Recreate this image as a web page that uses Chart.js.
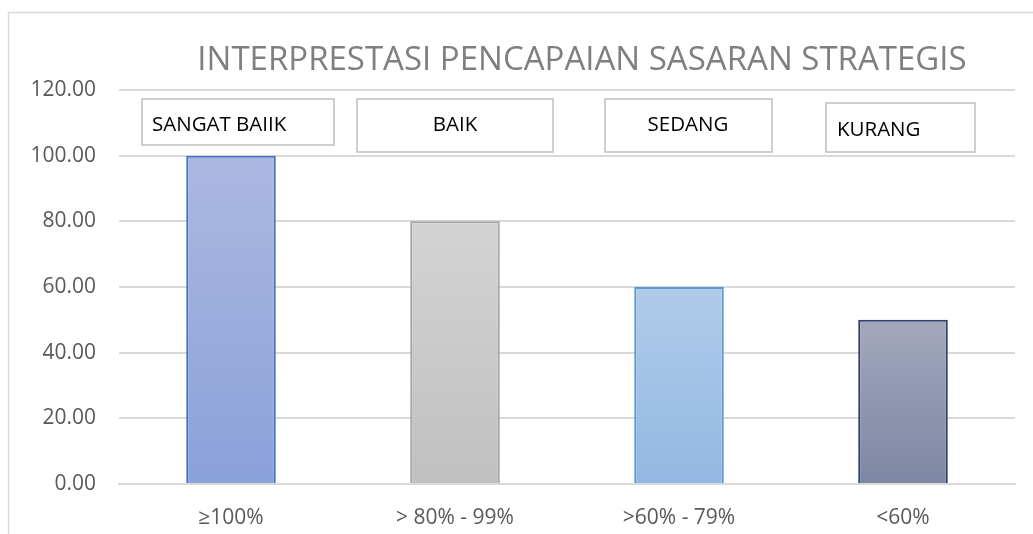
<!DOCTYPE html>
<html>
<head>
<meta charset="utf-8">
<script src="https://cdn.jsdelivr.net/npm/chart.js@4.4.1/dist/chart.umd.min.js"></script>
<style>
	html, body { margin: 0; padding: 0; background: #fff; }
	#wrap { width: 1033px; height: 534px; position: relative; }
</style>
</head>
<body>
<div id="wrap"><canvas id="interpChart" width="1033" height="534"></canvas></div>
<script>
// data
const chartTitle = "INTERPRESTASI PENCAPAIAN SASARAN STRATEGIS";
const categories = ["\u2265100%", "> 80% - 99%", ">60% - 79%", "<60%"];
const scores = [100, 80, 60, 50];
const ratingLabels = ["SANGAT BAIIK", "BAIK", "SEDANG", "KURANG"];
const yTicks = [0, 20, 40, 60, 80, 100, 120];

// bar colours (top of gradient, bottom of gradient, outline)
const barTop = ["#abb8e1", "#d3d3d3", "#b1cbe8", "#a3a8bc"];
const barBottom = ["#8aa1d9", "#c0c0c0", "#93b8e3", "#7d86a3"];
const barEdge = ["#4472c4", "#a5a5a5", "#5b9bd5", "#2f3f6e"];

// text box geometry, pixels around each category centre
const boxes = [
	{ dx: -89, w: 192, top: 99, h: 46, align: "left", tx: 10, base: 131 },
	{ dx: -98, w: 196, top: 99, h: 53, align: "center", tx: 98, base: 131 },
	{ dx: -74, w: 167, top: 99, h: 53, align: "center", tx: 83, base: 131 },
	{ dx: -77, w: 149, top: 103, h: 49, align: "left", tx: 11, base: 136 }
];

const FONT = "'Open Sans', 'Liberation Sans', sans-serif";

// vertical gradient per bar, from its value down to zero
function barGradient(ctx) {
	const chart = ctx.chart;
	const i = ctx.dataIndex;
	const yScale = chart.scales && chart.scales.y;
	if (!chart.chartArea || !yScale || i === undefined) return barBottom[i] || barBottom[0];
	const top = yScale.getPixelForValue(scores[i]);
	const bottom = yScale.getPixelForValue(0);
	if (!isFinite(top) || !isFinite(bottom)) return barBottom[i];
	const g = chart.ctx.createLinearGradient(0, top, 0, bottom);
	g.addColorStop(0, barTop[i]);
	g.addColorStop(1, barBottom[i]);
	return g;
}

const decorPlugin = {
	id: "decor",
	beforeDraw(chart) {
		const c = chart.ctx;
		c.save();
		c.fillStyle = "#ffffff";
		c.fillRect(0, 0, chart.width, chart.height);
		// outer frame
		c.strokeStyle = "#d9d9d9";
		c.lineWidth = 1.5;
		c.strokeRect(8.5, 12.5, chart.width + 50, chart.height + 50);
		// title
		c.fillStyle = "#7f7f7f";
		c.font = "33px " + FONT;
		c.textAlign = "center";
		c.textBaseline = "alphabetic";
		c.fillText(chartTitle, 582, 70);
		c.restore();
	},
	afterDraw(chart) {
		const c = chart.ctx;
		const x = chart.scales.x;
		c.save();
		c.font = "20.5px " + FONT;
		c.textBaseline = "alphabetic";
		ratingLabels.forEach((lab, i) => {
			const b = boxes[i];
			const left = x.getPixelForValue(i) + b.dx;
			c.fillStyle = "#ffffff";
			c.fillRect(left, b.top, b.w, b.h);
			c.strokeStyle = "#bfbfbf";
			c.lineWidth = 1.5;
			c.strokeRect(left, b.top, b.w, b.h);
			c.fillStyle = "#000000";
			c.textAlign = b.align;
			c.fillText(lab, left + b.tx, b.base);
		});
		c.restore();
	}
};

document.addEventListener("DOMContentLoaded", () => {
	const canvas = document.getElementById("interpChart");

	window.interpChart = new Chart(canvas, {
		type: "bar",
		data: {
			labels: categories,
			datasets: [{
				label: "Nilai",
				data: scores,
				backgroundColor: barGradient,
				borderColor: barEdge,
				borderWidth: 2,
				borderSkipped: "start",
				barPercentage: 0.4,
				categoryPercentage: 1.0
			}]
		},
		options: {
			responsive: false,
			animation: false,
			devicePixelRatio: 1,
			layout: {
				padding: { left: 0, right: 18, top: 90, bottom: 0 }
			},
			plugins: {
				legend: { display: false },
				title: { display: false },
				tooltip: { enabled: false }
			},
			scales: {
				x: {
					grid: { display: false },
					border: { display: true, color: "#d9d9d9", width: 2 },
					ticks: {
						color: "#595959",
						font: { family: FONT, size: 21 },
						padding: 13,
						maxRotation: 0
					},
					afterFit: (scale) => { scale.height = 50; }
				},
				y: {
					min: 0,
					max: 120,
					afterBuildTicks: (scale) => {
						scale.ticks = yTicks.map(v => ({ value: v }));
					},
					grid: { color: "#d9d9d9", lineWidth: 2, drawTicks: false },
					border: { display: false },
					ticks: {
						color: "#595959",
						font: { family: FONT, size: 21 },
						padding: 23,
						callback: (v) => Number(v).toFixed(2)
					},
					afterFit: (scale) => { scale.width = 119; }
				}
			}
		},
		plugins: [decorPlugin]
	});
});
</script>
</body>
</html>
